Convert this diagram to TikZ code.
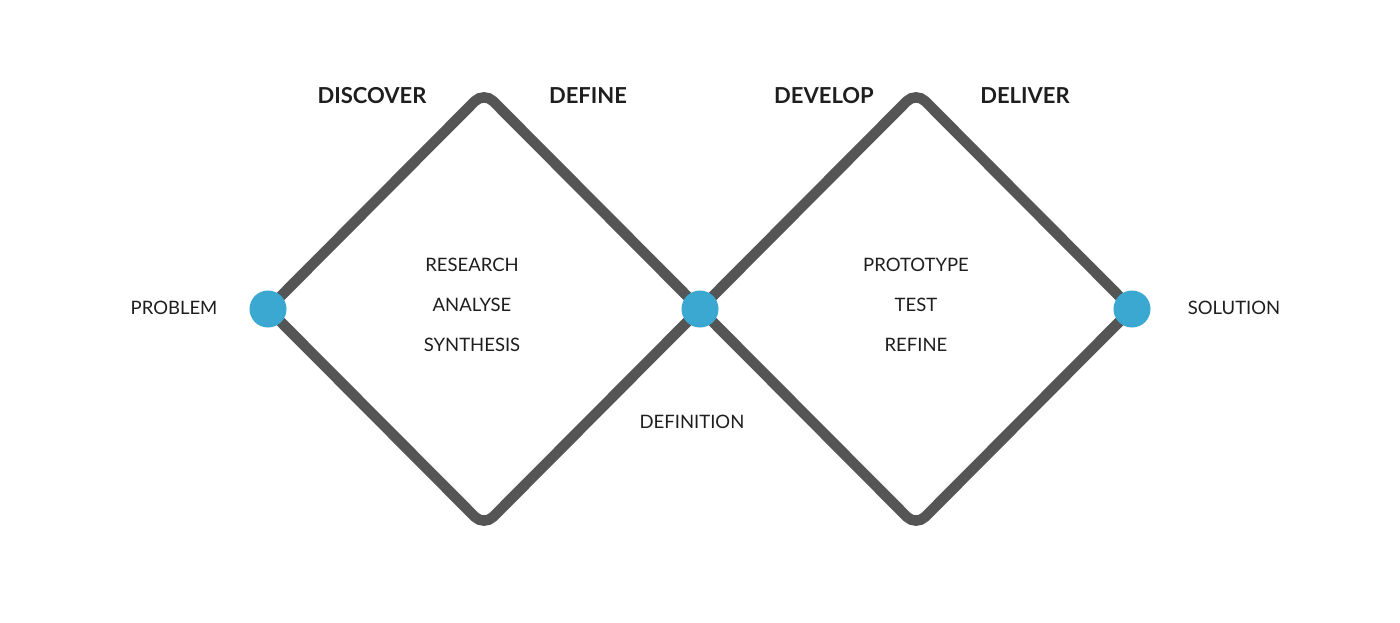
\documentclass[tikz,border=0pt]{standalone}
\usepackage{fontspec}
\setmainfont{Lato}
\definecolor{lineGrey}{HTML}{555555}
\definecolor{dotBlue}{HTML}{3AA8D0}
\definecolor{textDark}{HTML}{1E1E1E}
\begin{document}
\begin{tikzpicture}[x=1pt,y=-1pt,
    phase/.style={text=textDark,font=\fontsize{22}{26}\selectfont\bfseries},
    step label/.style={text=textDark,font=\fontsize{18.5}{22}\selectfont},
    dot/.style={circle,fill=dotBlue,minimum size=37pt,inner sep=0pt},
    track/.style={draw=lineGrey,line width=10.5pt,rounded corners=13pt}]
   \useasboundingbox (0,0) rectangle (1400,622);
   % corners of the two diamonds
   \coordinate (prob) at (268,309);
   \coordinate (mid)  at (700,309);
   \coordinate (sol)  at (1132,309);
   \coordinate (top1) at (484,92);
   \coordinate (bot1) at (484,526);
   \coordinate (top2) at (916,92);
   \coordinate (bot2) at (916,526);
   \draw[track] (prob) -- (top1) -- (bot2) -- (sol);
   \draw[track] (prob) -- (bot1) -- (top2) -- (sol);
   \node[dot] (problem)  at (prob) {};
   \node[dot] (definit)  at (mid)  {};
   \node[dot] (solution) at (sol)  {};
   % phases
   \node[phase] (discover) at (372,96) {DISCOVER};
   \node[phase] (define)   at (588,96) {DEFINE};
   \node[phase] (develop)  at (824,96) {DEVELOP};
   \node[phase] (deliver)  at (1025,96) {DELIVER};
   % steps
   \node[step label] (research)  at (472,265) {RESEARCH};
   \node[step label] (analyse)   at (472,305) {ANALYSE};
   \node[step label] (synthesis) at (472,345) {SYNTHESIS};
   \node[step label] (prototype) at (916,265) {PROTOTYPE};
   \node[step label] (test)      at (916,305) {TEST};
   \node[step label] (refine)    at (916,345) {REFINE};
   \node[step label] (problemtx) at (174,308) {PROBLEM};
   \node[step label] (solutiontx) at (1234,308) {SOLUTION};
   \node[step label] (definitiontx) at (692,422) {DEFINITION};
\end{tikzpicture}
\end{document}
